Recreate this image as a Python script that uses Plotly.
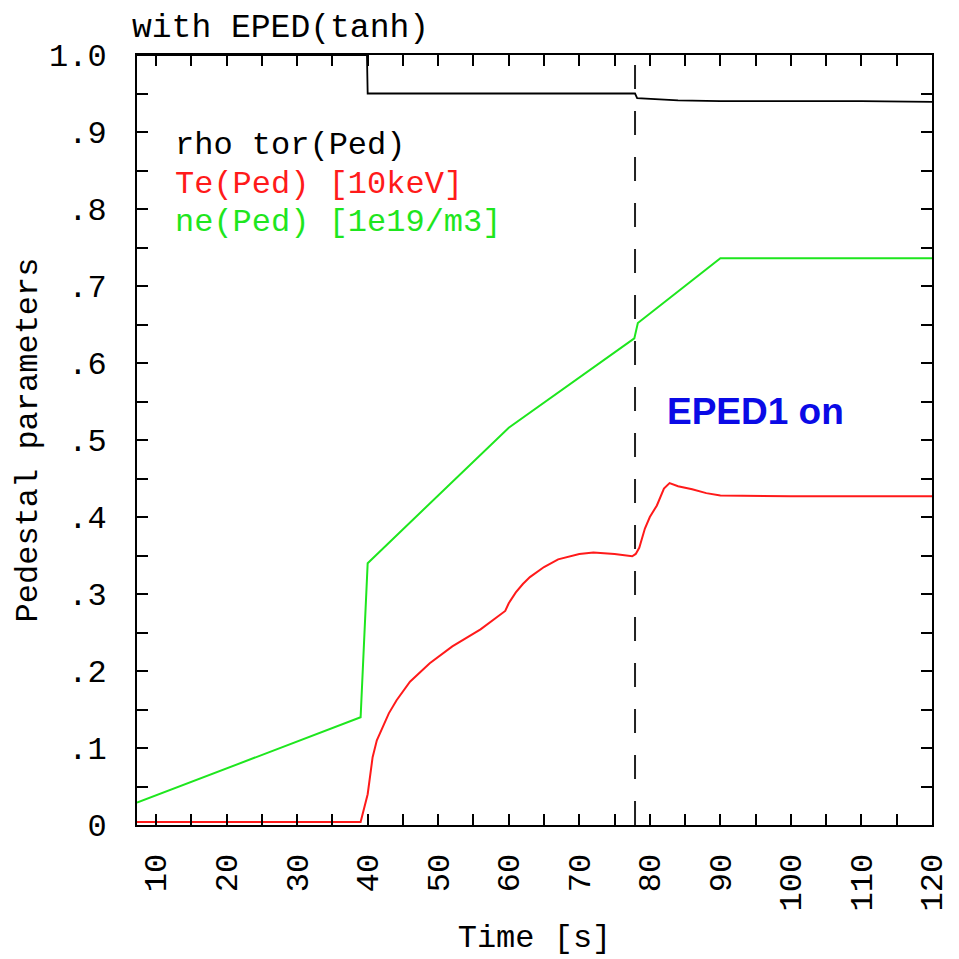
import plotly.graph_objects as go

# ---- data ----
t_rho = [7.3, 39.9, 40.0, 77.9, 78.2, 80.0, 84.0, 90.0, 100.0, 110.0, 120.0]
rho = [1.0, 1.0, 0.950, 0.950, 0.944, 0.943, 0.941, 0.940, 0.940, 0.940, 0.939]

t_te = [7.3, 39.0, 40.0, 40.7, 41.3, 42.1, 43.0, 44.1, 46.0, 48.8, 52.0, 56.0, 59.5,
        60.0, 61.0, 62.0, 63.0, 65.0, 67.0, 70.0, 72.0, 75.0, 77.5, 78.0, 78.5, 79.3,
        80.0, 81.0, 82.0, 82.8, 84.0, 86.0, 88.0, 90.0, 100.0, 120.0]
te = [0.004, 0.004, 0.040, 0.088, 0.110, 0.127, 0.145, 0.162, 0.186, 0.210, 0.232, 0.254, 0.278,
      0.288, 0.302, 0.313, 0.322, 0.335, 0.345, 0.352, 0.354, 0.352, 0.349, 0.352, 0.360, 0.385,
      0.400, 0.415, 0.437, 0.444, 0.440, 0.436, 0.431, 0.428, 0.427, 0.427]

t_ne = [7.3, 39.0, 40.0, 60.0, 77.8, 78.3, 90.0, 120.0]
ne = [0.029, 0.140, 0.340, 0.516, 0.632, 0.652, 0.736, 0.736]

t_eped_on = 77.9
x_range = [7.3, 120.0]
y_range = [0.0, 1.0]
y_tickvals = [0, 0.1, 0.2, 0.3, 0.4, 0.5, 0.6, 0.7, 0.8, 0.9, 1.0]
y_ticktext = ["0", ".1", ".2", ".3", ".4", ".5", ".6", ".7", ".8", ".9", "1.0"]
x_tickvals = [10, 20, 30, 40, 50, 60, 70, 80, 90, 100, 110, 120]

MONO = "Liberation Mono"
RED = "#ff1a1a"
GREEN = "#1ee61e"

fig = go.Figure()
fig.add_trace(go.Scatter(x=t_rho, y=rho, mode="lines", name="rho tor(Ped)",
                         line=dict(color="black", width=1.8)))
fig.add_trace(go.Scatter(x=t_te, y=te, mode="lines", name="Te(Ped) [10keV]",
                         line=dict(color=RED, width=2)))
fig.add_trace(go.Scatter(x=t_ne, y=ne, mode="lines", name="ne(Ped) [1e19/m3]",
                         line=dict(color=GREEN, width=2)))
fig.add_trace(go.Scatter(x=[t_eped_on, t_eped_on], y=y_range, mode="lines",
                         name="EPED1 on", line=dict(color="#222222", width=2, dash="24px,22px")))

axis_common = dict(showline=True, linecolor="black", linewidth=2, mirror="ticks",
                   ticks="inside", ticklen=11, tickwidth=1.5, tickcolor="black",
                   showgrid=False, zeroline=False,
                   tickfont=dict(family=MONO, size=32, color="black"))

fig.update_xaxes(range=x_range, tickvals=x_tickvals, tickangle=-90,
                 ticklabelstandoff=14,
                 minor=dict(dtick=5, tick0=0, ticks="inside", ticklen=11, tickwidth=1.5,
                            tickcolor="black"),
                 title=dict(text="Time [s]", font=dict(family=MONO, size=32, color="black"),
                            standoff=14),
                 **axis_common)
fig.update_yaxes(range=y_range, tickvals=y_tickvals, ticktext=y_ticktext,
                 ticklabelstandoff=22,
                 minor=dict(dtick=0.05, tick0=0, ticks="inside", ticklen=11, tickwidth=1.5,
                            tickcolor="black"),
                 title=dict(text="Pedestal parameters", font=dict(family=MONO, size=32, color="black"),
                            standoff=2),
                 **axis_common)

legend_labels = [("rho tor(Ped)", "black", 0.882),
                 ("Te(Ped) [10keV]", RED, 0.832),
                 ("ne(Ped) [1e19/m3]", GREEN, 0.782)]
annotations = []
for txt, col, yy in legend_labels:
    annotations.append(dict(text=txt, xref="paper", yref="y", x=0.045, y=yy,
                            xanchor="left", yanchor="middle", showarrow=False,
                            font=dict(family=MONO, size=32, color=col)))
annotations.append(dict(text="with EPED(tanh)", xref="paper", yref="paper", x=-0.009, y=1.035,
                        xanchor="left", yanchor="middle", showarrow=False,
                        font=dict(family=MONO, size=33, color="black")))
annotations.append(dict(text="<b>EPED1 on</b>", xref="x", yref="y", x=82.1, y=0.537,
                        xanchor="left", yanchor="middle", showarrow=False,
                        font=dict(family="Liberation Sans", size=37, color="#0a0ae6")))

# page body has an 8px margin, so the figure is 951 px and the margins are shifted by 8 px
fig.update_layout(width=951, height=951, showlegend=False,
                  paper_bgcolor="white", plot_bgcolor="white",
                  margin=dict(l=129, r=27, t=47, b=134, autoexpand=False),
                  annotations=annotations)

fig.write_html("out.html")
